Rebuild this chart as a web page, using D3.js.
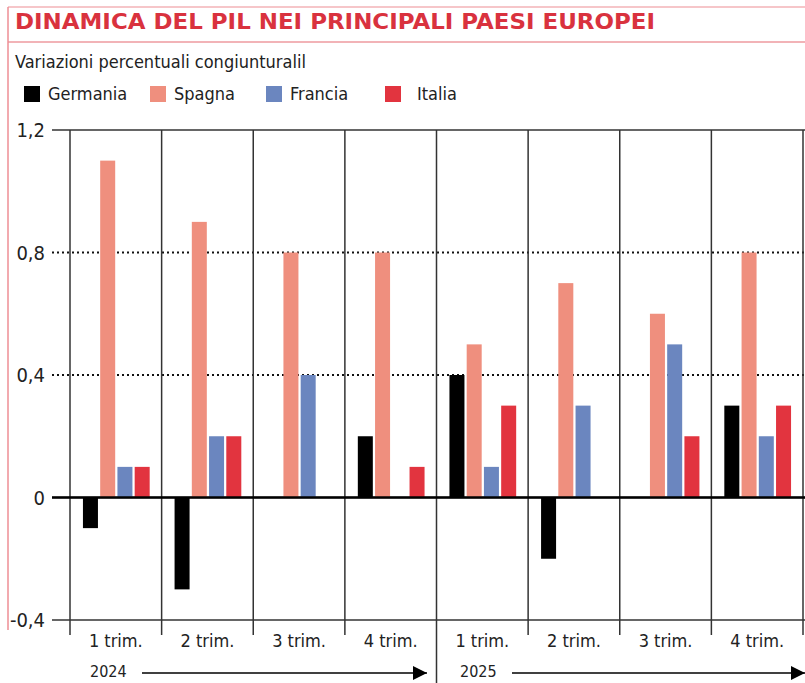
<!DOCTYPE html>
<html>
<head>
<meta charset="utf-8">
<script src="https://cdn.jsdelivr.net/npm/d3@7"></script>
<style>
  body { margin: 0; background: #fff; }
  text { font-family: "Liberation Sans Narrow", "DejaVu Sans Condensed", "Roboto", sans-serif; }
</style>
</head>
<body>
<div id="chart"></div>
<script>
// Variazioni percentuali congiunturali del PIL
var quarters = ["2024-1", "2024-2", "2024-3", "2024-4", "2025-1", "2025-2", "2025-3", "2025-4"];
var quarterLabels = ["1 trim.", "2 trim.", "3 trim.", "4 trim.", "1 trim.", "2 trim.", "3 trim.", "4 trim."];
var years = ["2024", "2025"];
var series = ["Germania", "Spagna", "Francia", "Italia"];
var colors = ["#000000", "#ef8f7e", "#6b86bf", "#e2343f"];

var germania = [-0.1, -0.3, 0, 0.2, 0.4, -0.2, 0, 0.3];
var spagna   = [1.1, 0.9, 0.8, 0.8, 0.5, 0.7, 0.6, 0.8];
var francia  = [0.1, 0.2, 0.4, 0, 0.1, 0.3, 0.5, 0.2];
var italia   = [0.1, 0.2, 0, 0.1, 0.3, 0, 0.2, 0.3];

var yTicks = [-0.4, 0, 0.4, 0.8, 1.2];

var values = [germania, spagna, francia, italia];

var width = 805, height = 683;

var svg = d3.select("#chart").append("svg")
    .attr("width", width)
    .attr("height", height);

// cornice rossa
svg.append("line").attr("x1", 8).attr("x2", width).attr("y1", 7).attr("y2", 7)
    .attr("stroke", "#f3b3b7").attr("stroke-width", 1.5);
svg.append("line").attr("x1", 8).attr("x2", width).attr("y1", 42).attr("y2", 42)
    .attr("stroke", "#ee9a9f").attr("stroke-width", 1.5);
svg.append("line").attr("x1", 8).attr("x2", 8).attr("y1", 7).attr("y2", 630)
    .attr("stroke", "#ee8e95").attr("stroke-width", 1.5);

svg.append("text")
    .attr("x", 15).attr("y", 29)
    .attr("fill", "#d9323e")
    .style("font-family", "'DejaVu Sans', sans-serif")
    .style("font-weight", "bold")
    .style("font-size", "21px")
    .attr("textLength", 640)
    .attr("lengthAdjust", "spacingAndGlyphs")
    .text("DINAMICA DEL PIL NEI PRINCIPALI PAESI EUROPEI");

svg.append("text")
    .attr("x", 15).attr("y", 68)
    .attr("fill", "#222")
    .style("font-size", "18px")
    .text("Variazioni percentuali congiunturalil");

// legenda
var legendX = [24, 150, 266, 385];
var legend = svg.append("g").selectAll("g").data(series).enter().append("g")
    .attr("transform", function(d, i) { return "translate(" + legendX[i] + ",86)"; });
legend.append("rect")
    .attr("width", 16).attr("height", 16)
    .attr("fill", function(d, i) { return colors[i]; });
legend.append("text")
    .attr("x", function(d, i) { return i == 3 ? 32 : 24; })
    .attr("y", 14)
    .attr("fill", "#222")
    .style("font-size", "18px")
    .text(function(d) { return d; });

// scale
var x = d3.scaleBand().domain(quarters).range([70, 803]);
var xs = d3.scaleBand().domain(series)
    .range([x.bandwidth() * 13 / 92, x.bandwidth() * 80 / 92])
    .paddingInner(0.13);
var y = d3.scaleLinear().domain([-0.4, 1.2]).range([620, 130]);

var it = d3.formatLocale({decimal: ",", thousands: ".", grouping: [3], currency: ["", " €"], minus: "-"});
var fmt = function(d) { return d === 0 ? "0" : it.format(".1f")(d); };

// griglia
var grid = svg.append("g");
grid.selectAll("line").data(yTicks).enter().append("line")
    .attr("x1", 52).attr("x2", width)
    .attr("y1", function(d) { return y(d); })
    .attr("y2", function(d) { return y(d); })
    .attr("stroke", function(d) { return (d == 0.4 || d == 0.8) ? "#111" : "#333"; })
    .attr("stroke-width", function(d) { return (d == 0.4 || d == 0.8) ? 2 : 1.5; })
    .attr("stroke-dasharray", function(d) { return (d == 0.4 || d == 0.8) ? "2,3" : null; });

svg.append("g").selectAll("text").data(yTicks).enter().append("text")
    .attr("x", 45)
    .attr("y", function(d) { return y(d) + 7; })
    .attr("text-anchor", "end")
    .attr("fill", "#222")
    .style("font-size", "20px")
    .text(fmt);

// separatori verticali
var sep = quarters.map(function(q) { return x(q); }).concat([x.range()[1]]);
svg.append("g").selectAll("line").data(sep).enter().append("line")
    .attr("x1", function(d) { return d; })
    .attr("x2", function(d) { return d; })
    .attr("y1", y(1.2))
    .attr("y2", function(d, i) { return i == 4 ? height : 635; })
    .attr("stroke", "#333")
    .attr("stroke-width", 1.5);

// barre
var groups = svg.append("g").selectAll("g").data(quarters).enter().append("g")
    .attr("transform", function(d) { return "translate(" + x(d) + ",0)"; });

groups.selectAll("rect")
    .data(function(d, qi) {
        return series.map(function(s, si) { return {s: s, i: si, v: values[si][qi]}; });
    })
    .enter().append("rect")
    .attr("x", function(d) { return xs(d.s); })
    .attr("width", xs.bandwidth())
    .attr("y", function(d) { return y(Math.max(0, d.v)); })
    .attr("height", function(d) { return Math.abs(y(d.v) - y(0)); })
    .attr("fill", function(d) { return colors[d.i]; });

// linea dello zero
svg.append("line")
    .attr("x1", 52).attr("x2", width)
    .attr("y1", y(0)).attr("y2", y(0))
    .attr("stroke", "#000").attr("stroke-width", 2.5);

// etichette trimestri
svg.append("g").selectAll("text").data(quarters).enter().append("text")
    .attr("x", function(d) { return x(d) + x.bandwidth() / 2; })
    .attr("y", 647)
    .attr("text-anchor", "middle")
    .attr("fill", "#222")
    .style("font-size", "18px")
    .text(function(d, i) { return quarterLabels[i]; });

// anni con frecce
var yearX = [90, 460];
var arrowStart = [142, 512];
var arrowEnd = [427, 805];
svg.append("defs").append("marker")
    .attr("id", "arrow")
    .attr("viewBox", "0 0 10 10")
    .attr("refX", 10).attr("refY", 5)
    .attr("markerWidth", 14).attr("markerHeight", 14)
    .attr("markerUnits", "userSpaceOnUse")
    .attr("orient", "auto")
    .append("path").attr("d", "M0,0L10,5L0,10Z").attr("fill", "#000");

years.forEach(function(yr, i) {
    svg.append("text")
        .attr("x", yearX[i]).attr("y", 677)
        .attr("fill", "#222")
        .style("font-size", "16px")
        .text(yr);
    svg.append("line")
        .attr("x1", arrowStart[i]).attr("x2", arrowEnd[i])
        .attr("y1", 673).attr("y2", 673)
        .attr("stroke", "#000").attr("stroke-width", 1.5)
        .attr("marker-end", "url(#arrow)");
});
</script>
</body>
</html>
